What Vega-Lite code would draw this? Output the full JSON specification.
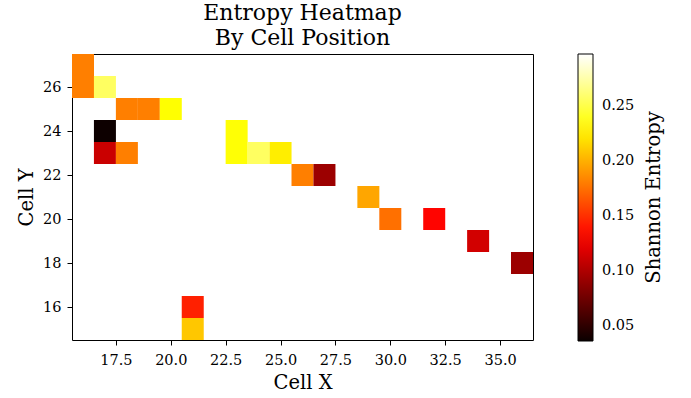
{
  "$schema": "https://vega.github.io/schema/vega-lite/v6.json",
  "autosize": "none",
  "width": 461,
  "height": 286,
  "padding": {"left": 72, "top": 54, "right": 158, "bottom": 58},
  "background": "white",
  "config": {
    "font": "DejaVu Serif",
    "view": {"stroke": "black", "strokeWidth": 1}
  },
  "title": {
    "text": ["Entropy Heatmap", "By Cell Position"],
    "fontSize": 22,
    "fontWeight": "normal",
    "font": "DejaVu Serif",
    "color": "black",
    "anchor": "middle",
    "offset": 4,
    "lineHeight": 25
  },
  "data": {
    "values": [
      {"x": 16, "y": 27, "entropy": 0.181},
      {"x": 16, "y": 26, "entropy": 0.181},
      {"x": 17, "y": 26, "entropy": 0.256},
      {"x": 18, "y": 25, "entropy": 0.181},
      {"x": 19, "y": 25, "entropy": 0.181},
      {"x": 20, "y": 25, "entropy": 0.231},
      {"x": 17, "y": 24, "entropy": 0.037},
      {"x": 17, "y": 23, "entropy": 0.111},
      {"x": 18, "y": 23, "entropy": 0.181},
      {"x": 23, "y": 24, "entropy": 0.232},
      {"x": 23, "y": 23, "entropy": 0.232},
      {"x": 24, "y": 23, "entropy": 0.256},
      {"x": 25, "y": 23, "entropy": 0.224},
      {"x": 26, "y": 22, "entropy": 0.181},
      {"x": 27, "y": 22, "entropy": 0.093},
      {"x": 29, "y": 21, "entropy": 0.196},
      {"x": 30, "y": 20, "entropy": 0.175},
      {"x": 32, "y": 20, "entropy": 0.133},
      {"x": 34, "y": 19, "entropy": 0.114},
      {"x": 36, "y": 18, "entropy": 0.093},
      {"x": 21, "y": 16, "entropy": 0.144},
      {"x": 21, "y": 15, "entropy": 0.209}
    ]
  },
  "layer": [
    {
      "mark": {"type": "square", "size": 484, "filled": true, "opacity": 1, "strokeWidth": 0},
      "encoding": {
        "x": {
          "field": "x",
          "type": "quantitative",
          "scale": {"domain": [15.5, 36.5], "nice": false, "zero": false},
          "axis": {
            "title": "Cell X",
            "values": [17.5, 20, 22.5, 25, 27.5, 30, 32.5, 35],
            "format": ".1f",
            "grid": false,
            "domain": false,
            "tickColor": "black",
            "tickSize": 5,
            "labelFontSize": 14.5,
            "labelColor": "black",
            "labelPadding": 8,
            "titleFontSize": 19.5,
            "titleFontWeight": "normal",
            "titleColor": "black",
            "titlePadding": 7
          }
        },
        "y": {
          "field": "y",
          "type": "quantitative",
          "scale": {"domain": [14.5, 27.5], "nice": false, "zero": false},
          "axis": {
            "title": "Cell Y",
            "values": [16, 18, 20, 22, 24, 26],
            "format": "d",
            "grid": false,
            "domain": false,
            "tickColor": "black",
            "tickSize": 5,
            "labelFontSize": 14.5,
            "labelColor": "black",
            "labelPadding": 6,
            "titleFontSize": 19.5,
            "titleFontWeight": "normal",
            "titleColor": "black",
            "titlePadding": 6
          }
        },
        "color": {
          "field": "entropy",
          "type": "quantitative",
          "scale": {
            "domain": [0.0364, 0.1315, 0.2308, 0.297],
            "range": ["#0b0000", "#ff0000", "#ffff00", "#ffffff"],
            "interpolate": "rgb"
          },
          "legend": {
            "orient": "none",
            "legendX": 506,
            "legendY": 0,
            "direction": "vertical",
            "gradientLength": 287,
            "gradientThickness": 15,
            "gradientStrokeColor": "black",
            "gradientStrokeWidth": 1,
            "values": [0.05, 0.1, 0.15, 0.2, 0.25],
            "format": ".2f",
            "labelFontSize": 14.5,
            "labelColor": "black",
            "labelOffset": 9,
            "tickCount": 5,
            "title": null
          }
        }
      }
    },
    {
      "mark": {"type": "square", "size": 1, "opacity": 0},
      "encoding": {
        "x": {"field": "x", "type": "quantitative"},
        "y": {
          "field": "y",
          "type": "quantitative",
          "scale": {"domain": [14.5, 27.5], "nice": false, "zero": false},
          "axis": {
            "orient": "right",
            "title": "Shannon Entropy",
            "labels": false,
            "ticks": false,
            "domain": false,
            "grid": false,
            "titleAngle": 270,
            "titleX": 120,
            "titleY": 143,
            "titleAlign": "center",
            "titleBaseline": "middle",
            "titleFontSize": 19.5,
            "titleFontWeight": "normal",
            "titleColor": "black"
          }
        }
      }
    }
  ],
  "resolve": {"scale": {"y": "independent"}, "axis": {"y": "independent"}}
}
